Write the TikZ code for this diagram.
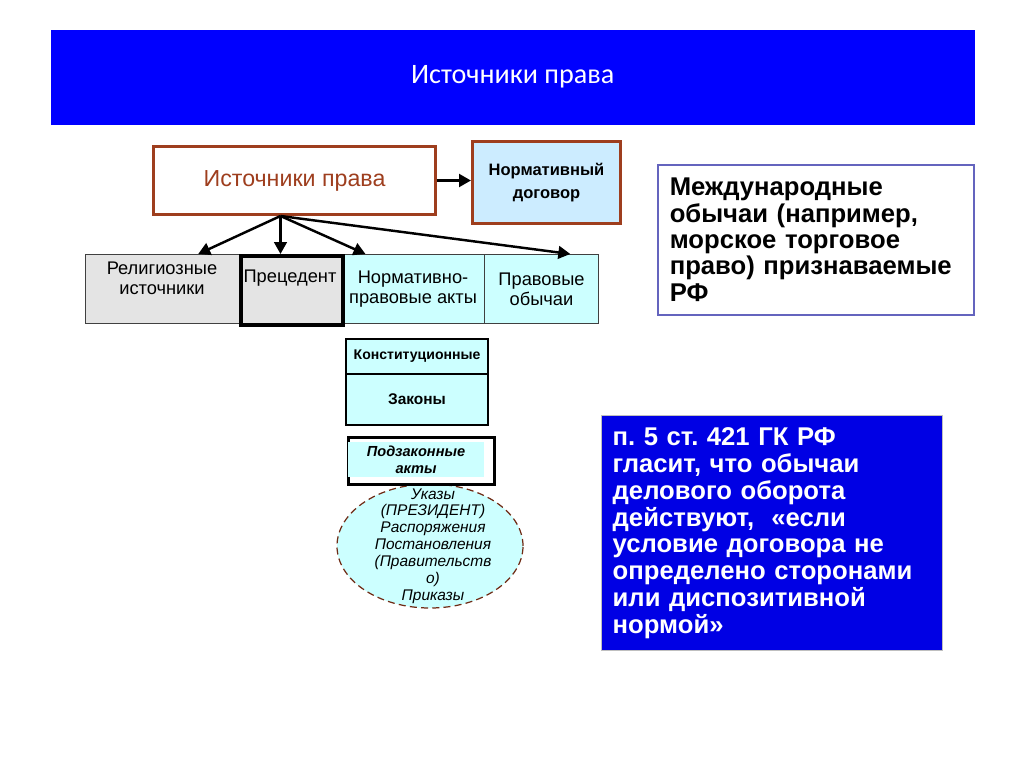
\documentclass[tikz,border=0pt]{standalone}
\usepackage{fontspec}
\setmainfont{Liberation Sans}
\newfontfamily\headfont{Carlito}
\usetikzlibrary{arrows.meta,shapes.geometric,calc}
\newcommand{\fs}[2]{\fontsize{#1}{#2}\selectfont}
\frenchspacing
\definecolor{slideblue}{RGB}{0,0,255}
\definecolor{boxblue}{RGB}{0,0,228}
\definecolor{rust}{RGB}{158,62,30}
\definecolor{paleblue}{RGB}{204,236,255}
\definecolor{palecyan}{RGB}{204,255,255}
\definecolor{palegray}{RGB}{228,228,228}
\definecolor{framepurple}{RGB}{100,100,190}
\tikzset{
  rowbox/.style={draw=black!75, line width=0.3pt, anchor=north west, inner sep=0pt, minimum height=0.69cm, align=center, font=\fs{5.2pt}{5.7pt}},
  rowtext/.style={align=center, font=\fs{5.2pt}{5.7pt}},
  smallbox/.style={draw, line width=0.6pt, fill=palecyan, anchor=north west, inner sep=0pt, minimum width=1.42cm},
  link/.style={line width=0.7pt, -{Triangle[length=3.4pt,width=3.6pt]}}
}
\begin{document}
\begin{tikzpicture}[x=1cm, y=-1cm]
	\useasboundingbox (0,0) rectangle (10.24,7.67);
	
	% Title bar
	\node[fill=slideblue, anchor=north west, minimum width=9.24cm, minimum height=0.95cm, text=white, font=\headfont\fs{8pt}{9pt}] (head) at (0.50,0.29) {Источники права};
	
	% Sources and contract
	\node[draw=rust, line width=0.85pt, anchor=north west, minimum width=2.82cm, minimum height=0.68cm, text=rust, font=\fs{6.6pt}{7pt}] (src) at (1.52,1.45) {Источники права};
	\node[draw=rust, fill=paleblue, line width=0.85pt, anchor=north west, minimum width=1.48cm, minimum height=0.82cm, align=center, font=\bfseries\fs{4.7pt}{6.5pt}] (contract) at (4.71,1.40) {Нормативный\\договор};
	\draw[link, line width=0.85pt] (src.east) -- (src.east -| contract.west);
	
	% Kinds of sources
	\node[rowbox, fill=palegray, minimum width=1.54cm] (rel) at (0.85,2.54) {};
	\node[rowbox, fill=palecyan, minimum width=1.43cm] (npa) at (3.41,2.54) {Нормативно-\\правовые акты};
	\node[rowbox, fill=palecyan, minimum width=1.14cm] (custom) at (4.84,2.54) {Правовые\\обычаи};
	\node[rowbox, fill=palegray, draw=black, line width=1.1pt, minimum width=1.02cm] (prec) at (2.39,2.54) {};
	\node[rowtext] (reltext) at (1.62,2.78) {Религиозные\\источники};
	\node[rowtext] (prectext) at (2.90,2.78) {Прецедент};
	
	\coordinate (fork) at ($(src.south)+(-0.14,0)$);
	\draw[link] (fork) -- ($(rel.north west)!0.73!(rel.north east)$);
	\draw[link] (fork) -- (fork |- prec.north);
	\draw[link] (fork) -- ($(npa.north west)!0.17!(npa.north east)$);
	\draw[link] (fork) -- ($(custom.north west)!0.75!(custom.north east)$);
	
	% Acts
	\node[smallbox, minimum height=0.35cm, font=\bfseries\fs{4.0pt}{5pt}] (konst) at (3.45,3.38) {Конституционные};
	\node[smallbox, minimum height=0.51cm, font=\bfseries\fs{4.4pt}{5pt}] (laws) at (3.45,3.73) {Законы};
	
	\node[ellipse, draw=rust!70!black, dash pattern=on 2pt off 1.2pt, line width=0.35pt, fill=palecyan, minimum width=1.86cm, minimum height=1.24cm, inner sep=0pt] (acts) at (4.30,5.46) {};
	\node[align=center, font=\itshape\fs{4.4pt}{4.8pt}] (actstext) at (4.33,5.46) {Указы\\(ПРЕЗИДЕНТ)\\Распоряжения\\Постановления\\(Правительств\\о)\\Приказы};
	
	\node[draw, line width=0.8pt, fill=white, anchor=north west, minimum width=1.46cm, minimum height=0.47cm, inner sep=0pt] (bylaws) at (3.47,4.36) {};
	\node[fill=palecyan, minimum width=1.36cm, minimum height=0.35cm, inner sep=0pt, align=center, font=\bfseries\itshape\fs{4.15pt}{4.8pt}] (bylawtext) at (4.16,4.595) {Подзаконные\\акты};
	
	% International customs
	\node[draw=framepurple, line width=0.45pt, fill=white, anchor=north west, minimum height=1.50cm, text width=2.92cm, inner xsep=0.12cm, align=left, font=\bfseries\fs{7.3pt}{7.5pt}] (intl) at (6.57,1.64) {Международные\\обычаи (например,\\морское торговое\\право) признаваемые\\РФ};
	
	% Civil code note
	\node[draw=black!25, line width=0.4pt, fill=boxblue, anchor=north west, minimum height=2.32cm, text width=3.19cm, inner xsep=0.11cm, align=left, text=white, font=\bfseries\fs{7.3pt}{7.65pt}] (note) at (6.01,4.15) {п. 5 ст. 421 ГК РФ\\гласит, что обычаи\\делового оборота\\действуют,~~«если\\условие договора не\\определено сторонами\\или диспозитивной\\нормой»};
\end{tikzpicture}
\end{document}
